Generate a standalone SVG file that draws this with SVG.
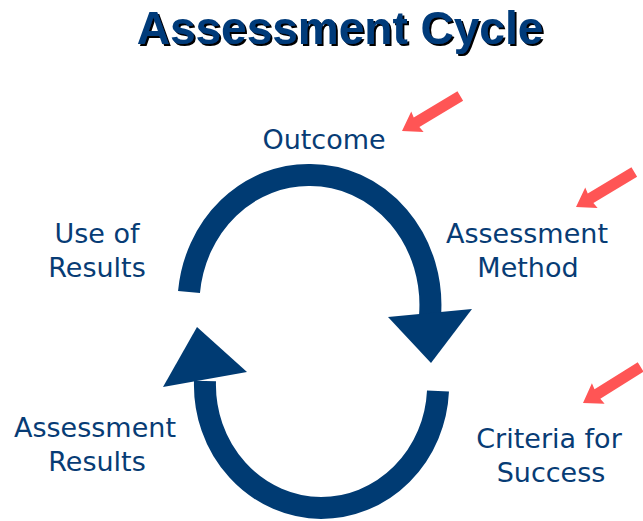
<svg xmlns="http://www.w3.org/2000/svg" xmlns:xlink="http://www.w3.org/1999/xlink" width="643" height="521" viewBox="0 0 643 521">
<style>
.lbl{font-family:"DejaVu Sans","Verdana",sans-serif;font-size:27px;fill:#073C75;text-anchor:middle}
.ttl{font-family:"Liberation Sans",Arial,sans-serif;font-size:46px;font-weight:bold;text-anchor:middle;fill:#003B7A}
.arc{fill:none;stroke:#003B73;stroke-width:22;stroke-linecap:butt}
.head{fill:#003B73}
.red{fill:#FF5555}
</style>
<defs>
<polygon id="redArrow" points="0,0 18,-12 17,-5.5 68,-5.5 68,5.5 17,5.5 18,12"/>
<filter id="shadow" x="-5%" y="-20%" width="110%" height="140%">
<feOffset in="SourceAlpha" dx="2" dy="2" result="off"/>
<feMerge><feMergeNode in="off"/><feMergeNode in="SourceGraphic"/></feMerge>
</filter>
</defs>
<rect width="643" height="521" fill="#fff"/>
<g id="title">
<text class="ttl" x="340" y="44" filter="url(#shadow)">Assessment Cycle</text>
</g>
<g id="connectors">
<path class="arc" d="M189 292 A120 130 0 0 1 310 175 A120 130 0 0 1 430 316"/>
<polygon class="head" points="388,317 472,309 431,363"/>
<path class="arc" d="M438 391 A117 123 0 0 1 321 508 A117 123 0 0 1 205 381"/>
<polygon class="head" points="163,387 247,372 197,327"/>
<use xlink:href="#redArrow" class="red" transform="translate(402 131) rotate(-31)"/>
<use xlink:href="#redArrow" class="red" transform="translate(576 207) rotate(-31)"/>
<use xlink:href="#redArrow" class="red" transform="translate(583 403) rotate(-32)"/>
</g>
<g id="outcome"><text class="lbl" x="324" y="149">Outcome</text></g>
<g id="use-of-results"><text class="lbl" x="97" y="243">Use of</text><text class="lbl" x="97" y="277">Results</text></g>
<g id="assessment-method"><text class="lbl" x="527" y="243">Assessment</text><text class="lbl" x="528" y="277">Method</text></g>
<g id="assessment-results"><text class="lbl" x="95" y="437">Assessment</text><text class="lbl" x="97" y="471">Results</text></g>
<g id="criteria-for-success"><text class="lbl" x="549" y="448">Criteria for</text><text class="lbl" x="551" y="482">Success</text></g>
</svg>
